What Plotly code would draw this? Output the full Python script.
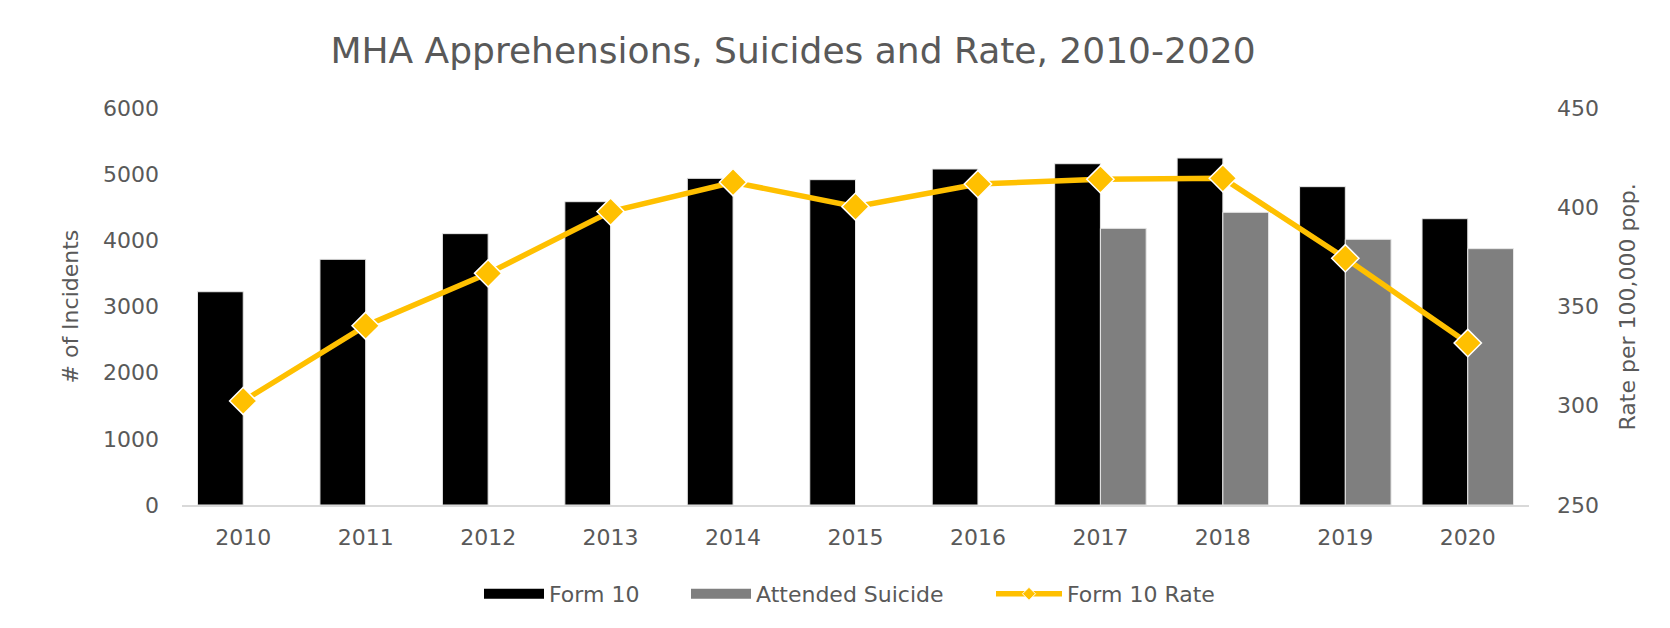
import plotly.graph_objects as go

years = ["2010", "2011", "2012", "2013", "2014", "2015", "2016", "2017", "2018", "2019", "2020"]
form10 = [3223, 3713, 4101, 4584, 4937, 4917, 5078, 5158, 5244, 4811, 4327]
attended_suicide = [None, None, None, None, None, None, None, 4181, 4423, 4015, 3874]
form10_rate = [302.4, 340.3, 366.7, 397.8, 412.6, 400.3, 411.7, 414.1, 414.6, 374.3, 331.6]

left_ticks = [0, 1000, 2000, 3000, 4000, 5000, 6000]
right_ticks = [250, 300, 350, 400, 450]

# page body has an 8px margin, so the figure is offset by 8px
OFF = 8
W, H = 1670 - OFF, 628 - OFF
L, T = 182 - OFF, 108 - OFF
R = W - (1529 - OFF)
B = H - (505 - OFF)
pw, ph = W - L - R, H - T - B

FONT = "DejaVu Sans"
TXT = "#595959"
BLACK, GREY, GOLD = "#000000", "#7F7F7F", "#FFC000"


def px_x(x_full):
    return ((x_full - OFF) - L) / pw


LEG_Y = ((505 - OFF) - (594 - OFF)) / ph

fig = go.Figure()
fig.add_trace(go.Bar(
    x=years, y=form10, name="Form 10", showlegend=False, legendgroup="f10",
    marker=dict(color=BLACK, line=dict(color="#E6E6E6", width=1)),
    yaxis="y",
))
fig.add_trace(go.Bar(
    x=years, y=attended_suicide, name="Attended Suicide", showlegend=False,
    legendgroup="as",
    marker=dict(color=GREY, line=dict(color="#E6E6E6", width=1)),
    yaxis="y",
))
fig.add_trace(go.Scatter(
    x=years, y=form10_rate, name="Form 10 Rate", mode="lines+markers",
    line=dict(color=GOLD, width=5.5),
    marker=dict(symbol="diamond", size=21, color=GOLD,
                line=dict(color="#FFFFFF", width=1.5)),
    yaxis="y2", showlegend=False, legendgroup="rate",
))
# legend entries (wide swatches like the original)
fig.add_trace(go.Scatter(x=[None], y=[None], mode="lines", name="Form 10",
                         legendgroup="f10", line=dict(color=BLACK, width=14),
                         legend="legend"))
fig.add_trace(go.Scatter(x=[None], y=[None], mode="lines", name="Attended Suicide",
                         legendgroup="as", line=dict(color=GREY, width=14),
                         legend="legend2"))
fig.add_trace(go.Scatter(x=[None], y=[None], mode="lines+markers", name="Form 10 Rate",
                         legendgroup="rate", line=dict(color=GOLD, width=5.5),
                         marker=dict(symbol="diamond", size=10, color=GOLD,
                                     line=dict(color="#FFFFFF", width=1)),
                         legend="legend3"))

leg_common = dict(orientation="h", xanchor="left", y=LEG_Y, yanchor="middle",
                  font=dict(size=22, color=TXT, family=FONT),
                  bgcolor="rgba(0,0,0,0)")

fig.update_layout(
    width=W, height=H,
    margin=dict(l=L, r=R, t=T, b=B, autoexpand=False),
    paper_bgcolor="#FFFFFF", plot_bgcolor="#FFFFFF",
    barmode="group", bargap=0.253, bargroupgap=0,
    font=dict(family=FONT, color=TXT, size=22),
    title=dict(text="MHA Apprehensions, Suicides and Rate, 2010-2020",
               x=(793 - OFF) / W, xref="container", xanchor="center",
               y=1 - (50 - OFF) / H, yref="container", yanchor="middle",
               font=dict(family=FONT, size=36, color=TXT)),
    xaxis=dict(showgrid=False, showline=True, linecolor="#D9D9D9", linewidth=2,
               ticks="", ticklabelstandoff=12, range=[-0.5, len(years) - 0.5],
               tickfont=dict(size=22, color=TXT)),
    yaxis=dict(range=[0, 6000], tickvals=left_ticks, showgrid=False, zeroline=False,
               showline=False, ticks="", ticklabelstandoff=22,
               tickfont=dict(size=22, color=TXT)),
    yaxis2=dict(range=[250, 450], tickvals=right_ticks, overlaying="y", side="right",
                showgrid=False, zeroline=False, showline=False, ticks="",
                ticklabelstandoff=27, tickfont=dict(size=22, color=TXT)),
    legend=dict(x=px_x(479), itemwidth=60, **leg_common),
    legend2=dict(x=px_x(686), itemwidth=60, **leg_common),
    legend3=dict(x=px_x(991), itemwidth=66, **leg_common),
    annotations=[
        dict(text="# of Incidents", xref="paper", yref="paper",
             x=((70 - OFF) - L) / pw, y=0.5, textangle=-90, showarrow=False,
             xanchor="center", yanchor="middle",
             font=dict(size=22, color=TXT, family=FONT)),
        dict(text="Rate per 100,000 pop.", xref="paper", yref="paper",
             x=((1627 - OFF) - L) / pw, y=0.5, textangle=-90, showarrow=False,
             xanchor="center", yanchor="middle",
             font=dict(size=22, color=TXT, family=FONT)),
    ],
)

fig.write_html("out.html")
